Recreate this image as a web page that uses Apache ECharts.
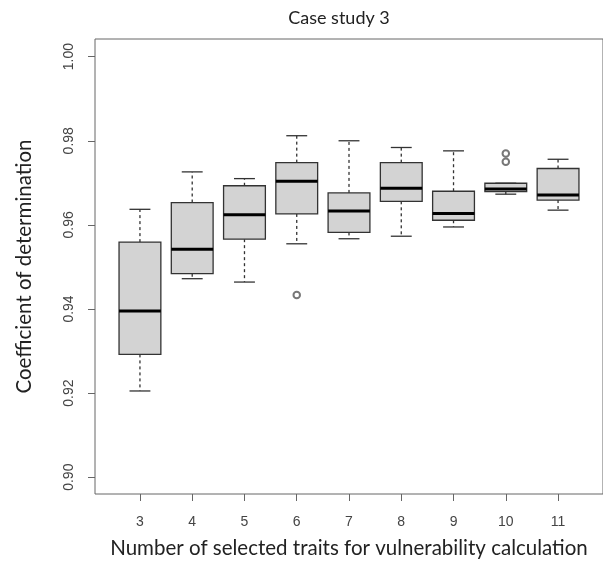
<!DOCTYPE html>
<html>
<head>
<meta charset="utf-8">
<script src="https://cdn.jsdelivr.net/npm/echarts@6/dist/echarts.min.js"></script>
<style>html,body{margin:0;padding:0;background:#fff;}#c{width:603px;height:564px;}</style>
</head>
<body>
<div id="c"></div>
<script>
var categories = [3, 4, 5, 6, 7, 8, 9, 10, 11];
var lowerWhisker = [0.9205, 0.9472, 0.9464, 0.9555, 0.9567, 0.9573, 0.9595, 0.9673, 0.9635];
var q1 = [0.9292, 0.9484, 0.9566, 0.9626, 0.9582, 0.9656, 0.9611, 0.9679, 0.9659];
var median = [0.9395, 0.9542, 0.9624, 0.9704, 0.9633, 0.9687, 0.9627, 0.9685, 0.9671];
var q3 = [0.9559, 0.9653, 0.9693, 0.9748, 0.9676, 0.9748, 0.9680, 0.9699, 0.9734];
var upperWhisker = [0.9637, 0.9726, 0.9710, 0.9812, 0.9800, 0.9784, 0.9776, 0.9699, 0.9756];
var outliers = [[6, 0.9433], [10, 0.9770], [10, 0.9750]];
var yTicks = [0.90, 0.92, 0.94, 0.96, 0.98, 1.00];

var boxData = categories.map(function (c, i) {
  return [c, lowerWhisker[i], q1[i], median[i], q3[i], upperWhisker[i]];
});

var chart = echarts.init(document.getElementById('c'), null, {renderer: 'canvas'});
var stroke = '#333';

function renderBox(params, api) {
  var x = api.value(0);
  var pLow = api.coord([x, api.value(1)]);
  var pQ1 = api.coord([x, api.value(2)]);
  var pMed = api.coord([x, api.value(3)]);
  var pQ3 = api.coord([x, api.value(4)]);
  var pHigh = api.coord([x, api.value(5)]);
  var w = api.size([0.8, 0])[0];
  var cx = pMed[0];
  var sw = w / 4;
  var dash = {stroke: stroke, lineWidth: 1.3, lineDash: [3, 3]};
  var solid = {stroke: stroke, lineWidth: 1.3};
  return {
    type: 'group',
    children: [
      {type: 'line', shape: {x1: cx, y1: pQ3[1], x2: cx, y2: pHigh[1]}, style: dash},
      {type: 'line', shape: {x1: cx, y1: pQ1[1], x2: cx, y2: pLow[1]}, style: dash},
      {type: 'line', shape: {x1: cx - sw, y1: pHigh[1], x2: cx + sw, y2: pHigh[1]}, style: solid},
      {type: 'line', shape: {x1: cx - sw, y1: pLow[1], x2: cx + sw, y2: pLow[1]}, style: solid},
      {type: 'rect', shape: {x: cx - w / 2, y: pQ3[1], width: w, height: pQ1[1] - pQ3[1]},
        style: {fill: '#d3d3d3', stroke: stroke, lineWidth: 1.3}},
      {type: 'line', shape: {x1: cx - w / 2, y1: pMed[1], x2: cx + w / 2, y2: pMed[1]},
        style: {stroke: '#000', lineWidth: 3}}
    ]
  };
}

var option = {
  backgroundColor: '#fff',
  animation: false,
  title: {
    text: 'Case study 3',
    left: 334, top: 4, textAlign: 'center',
    textStyle: {fontFamily: 'Lato', fontSize: 18, fontWeight: 'normal', color: '#222'}
  },
  grid: {left: 95, top: 39, width: 509.4, height: 455, show: true, borderColor: '#666', borderWidth: 1, backgroundColor: 'transparent'},
  xAxis: {
    type: 'value', min: 2.14, max: 11.86,
    name: 'Number of selected traits for vulnerability calculation',
    nameLocation: 'middle', nameGap: 44,
    nameTextStyle: {fontFamily: 'Lato', fontSize: 20.5, color: '#222'},
    axisLine: {show: false},
    splitLine: {show: false},
    axisTick: {show: true, length: 7, lineStyle: {color: '#666'}, customValues: categories},
    axisLabel: {fontFamily: 'Liberation Sans', fontSize: 14, color: '#444', margin: 21, customValues: categories,
      formatter: function (v) { return String(v); }}
  },
  yAxis: {
    type: 'value', min: 0.896, max: 1.0042,
    name: 'Coefficient of determination',
    nameLocation: 'middle', nameGap: 60,
    nameTextStyle: {fontFamily: 'Lato', fontSize: 20.5, color: '#222'},
    axisLine: {show: false},
    splitLine: {show: false},
    axisTick: {show: true, length: 7, lineStyle: {color: '#666'}, customValues: yTicks},
    axisLabel: {fontFamily: 'Liberation Sans', fontSize: 14, color: '#444', rotate: 90, margin: 19, customValues: yTicks,
      formatter: function (v) { return v.toFixed(2); }}
  },
  series: [
    {type: 'custom', renderItem: renderBox, data: boxData, encode: {x: 0, y: [1, 2, 3, 4, 5]}, z: 2},
    {type: 'scatter', data: outliers, symbol: 'emptyCircle', symbolSize: 6.5,
      itemStyle: {color: '#555', borderColor: '#555', borderWidth: 0.9}, z: 3}
  ]
};
chart.setOption(option);
</script>
</body>
</html>
